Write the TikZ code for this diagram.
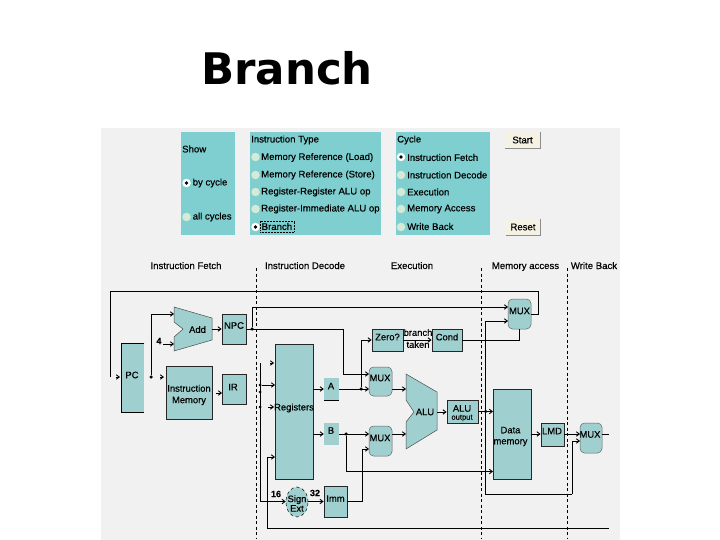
\documentclass[tikz,border=0pt]{standalone}
\usepackage{fontspec}
\setmainfont{Liberation Sans}[FakeBold=0.35]
\newfontfamily\titlefont{DejaVu Sans}
\usetikzlibrary{arrows.meta,shapes.geometric}
\definecolor{panelc}{HTML}{7FCFD0}
\definecolor{boxc}{HTML}{A0CFCF}
\definecolor{bgc}{HTML}{F1F1F1}
\definecolor{btnc}{HTML}{F5F2E4}
\definecolor{radc}{HTML}{D6EAD8}
\tikzset{
  panel/.style={fill=panelc,draw=none,inner sep=0pt},
  txt/.style={font=\fontsize{9.6}{10}\selectfont,inner sep=0pt,text=black},
  ltxt/.style={txt,anchor=west},
  head/.style={txt,anchor=base},
  lab/.style={font=\fontsize{9.4}{9}\selectfont,inner sep=0pt,text=black},
  box/.style={fill=boxc,draw=black!85,line width=.7pt,inner sep=0pt},
  softbox/.style={fill=boxc,draw=none,inner sep=0pt},
  muxbox/.style={rectangle,rounded corners=4.5pt,fill=boxc,draw=black!60,line width=.5pt,inner sep=0pt},
  shapefill/.style={fill=boxc,draw=black!70,line width=.5pt},
  wire/.style={line width=.9pt,black},
  arr/.style={wire,-{Straight Barb[length=3pt,width=4.5pt]}},
  stage/.style={black,line width=.9pt,dash pattern=on 3pt off 2.5pt},
  radio/.style={circle,minimum size=8.5pt,inner sep=0pt,fill=radc,draw=none},
  radioon/.style={circle,minimum size=8.5pt,inner sep=0pt,fill=white,draw=none},
  rdot/.style={circle,minimum size=3.8pt,inner sep=0pt,fill=black},
  btn/.style={fill=btnc,draw=none,inner sep=0pt},
  dot/.style={circle,fill=black,minimum size=3.5pt,inner sep=0pt}
}
\begin{document}
\begin{tikzpicture}[x=1pt,y=-1pt]
\useasboundingbox (0,0) rectangle (720,540);
\fill[white] (0,0) rectangle (720,540);
\fill[bgc] (101,128) rectangle (620,540);
\node[inner sep=0pt,anchor=base west,font=\titlefont\bfseries\fontsize{43.5}{46}\selectfont] (title) at (201,85) {Branch};

% control panels
\node[panel,minimum width=54pt,minimum height=103pt] (pShow) at (208,183.5) {};
\node[panel,minimum width=131pt,minimum height=103pt] (pType) at (315.5,183.5) {};
\node[panel,minimum width=94pt,minimum height=103pt] (pCycle) at (443,183.5) {};
\node[btn,minimum width=35pt,minimum height=16pt] (bStart) at (522.5,140) {};
\node[btn,minimum width=34pt,minimum height=16pt] (bReset) at (523,227) {};
\draw[black!45,line width=.6pt] (bStart.north east) -- (bStart.south east) -- (bStart.south west);
\draw[black!45,line width=.6pt] (bReset.north east) -- (bReset.south east) -- (bReset.south west);
\node[txt] (tStart) at (bStart) {Start};
\node[txt] (tReset) at (bReset) {Reset};

\node[ltxt] (tShow) at (182,149) {Show};
\node[radioon] (r1) at (186.5,183) {}; \node[rdot] (r1d) at (r1) {};
\node[ltxt] (tby) at (192.5,183) {by cycle};
\node[radio] (r2) at (186.5,217) {};
\node[ltxt] (tall) at (192.5,217) {all cycles};

\node[ltxt] (tType) at (251,140) {Instruction Type};
\node[radio] (t1) at (255.5,157) {}; \node[ltxt] (tt1) at (261,157.5) {Memory Reference (Load)};
\node[radio] (t2) at (255.5,175) {}; \node[ltxt] (tt2) at (261,175) {Memory Reference (Store)};
\node[radio] (t3) at (255.5,192) {}; \node[ltxt] (tt3) at (261,192) {Register-Register ALU op};
\node[radio] (t4) at (255.5,209) {}; \node[ltxt] (tt4) at (261,209) {Register-Immediate ALU op};
\node[radioon] (t5) at (255.5,227) {}; \node[rdot] (t5d) at (t5) {};
\node[ltxt] (tt5) at (261.5,226.5) {Branch};
\draw[black,line width=.5pt,densely dotted] (260.5,221) rectangle (294,232);

\node[ltxt] (tCycle) at (397,140) {Cycle};
\node[radioon] (c1) at (401,157) {}; \node[rdot] (c1d) at (c1) {};
\node[ltxt] (tc1) at (407,157.5) {Instruction Fetch};
\node[radio] (c2) at (401,175) {}; \node[ltxt] (tc2) at (407,175) {Instruction Decode};
\node[radio] (c3) at (401,192) {}; \node[ltxt] (tc3) at (407,192) {Execution};
\node[radio] (c4) at (401,209) {}; \node[ltxt] (tc4) at (407,209) {Memory Access};
\node[radio] (c5) at (401,227) {}; \node[ltxt] (tc5) at (407,226.5) {Write Back};

% stage headings
\node[head] (hIF) at (186,269) {Instruction Fetch};
\node[head] (hID) at (305,269) {Instruction Decode};
\node[head] (hEX) at (412,269) {Execution};
\node[head] (hMA) at (525.5,269) {Memory access};
\node[head] (hWB) at (594,269) {Write Back};

% stage boundaries
\coordinate (s1a) at (256,268); \coordinate (s1b) at (256,538);
\coordinate (s2a) at (481.5,268); \coordinate (s2b) at (481.5,538);
\coordinate (s3a) at (567.5,268); \coordinate (s3b) at (567.5,538);
\draw[stage] (s1a) -- (s1b);
\draw[stage] (s2a) -- (s2b);
\draw[stage] (s3a) -- (s3b);

% blocks
\node[box,draw=none,minimum width=22pt,minimum height=68pt] (PC) at (133,378) {};
\draw[black,line width=.7pt] (PC.north east) -- (PC.north west) -- (PC.south west) -- (PC.south east);
\node[box,minimum width=46pt,minimum height=53pt] (IM) at (189,392.5) {};
\node[box,minimum width=24pt,minimum height=30pt] (IR) at (234,389) {};
\node[box,minimum width=24pt,minimum height=30pt] (NPC) at (234,329) {};
\node[box,minimum width=38pt,minimum height=135pt] (Reg) at (294,411.5) {};
\node[softbox,minimum width=15pt,minimum height=22pt] (A) at (331.5,389) {};
\node[softbox,minimum width=15pt,minimum height=22pt] (B) at (331.5,434) {};
\draw[black,line width=.7pt] (A.south west) -- (A.south east);
\node[box,minimum width=23pt,minimum height=31pt] (Imm) at (335.5,501.5) {};
\node[ellipse,fill=boxc,draw=black,line width=.5pt,dashed,inner sep=0pt,minimum width=22pt,minimum height=30pt] (Sign) at (297,502) {};
\node[box,minimum width=31pt,minimum height=22pt] (Zero) at (387.5,340) {};
\node[box,minimum width=30pt,minimum height=22pt] (Cond) at (447,340) {};
\node[muxbox,minimum width=23pt,minimum height=30pt] (M1) at (519.5,314) {};
\node[muxbox,minimum width=23pt,minimum height=29pt] (M2) at (380.5,381.5) {};
\node[muxbox,minimum width=23pt,minimum height=30pt] (M3) at (380.5,441) {};
\node[muxbox,minimum width=22pt,minimum height=30pt] (M4) at (591,438) {};
\node[box,minimum width=31pt,minimum height=23pt] (ALUo) at (462.5,411.5) {};
\node[box,minimum width=38pt,minimum height=90pt] (DM) at (512,434) {};
\node[box,minimum width=23pt,minimum height=23pt] (LMD) at (552.5,434.5) {};

% polygons
\coordinate (AddE) at (212,329);
\coordinate (AddI1) at (174,314);
\coordinate (AddI2) at (174,344);
\draw[shapefill] (174,307) -- (212,318) -- (212,340) -- (174,351) -- (174,337) -- (183,329) -- (174,322) -- cycle;
\coordinate (AluE) at (437,412);
\coordinate (AluI1) at (406,389);
\coordinate (AluI2) at (406,434);
\draw[shapefill] (406,374) -- (437,392) -- (437,430) -- (406,449) -- (406,422) -- (414,412) -- (406,400) -- cycle;

% block labels
\node[lab] (lPC) at (132,375) {PC};
\node[lab,align=center,font=\fontsize{9.4}{11.5}\selectfont] (lIM) at (189,395) {Instruction\\Memory};
\node[lab] (lIR) at (233,387) {IR};
\node[lab] (lNPC) at (234,325.5) {NPC};
\node[lab] (lAdd) at (197.5,329.5) {Add};
\node[lab] (lReg) at (294,408) {Registers};
\node[lab] (lA) at (331,386) {A};
\node[lab] (lB) at (331,430.5) {B};
\node[lab] (lImm) at (335.5,498.5) {Imm};
\node[lab,align=center,font=\fontsize{9.4}{9.5}\selectfont] (lSign) at (297,503.5) {Sign\\Ext};
\node[lab] (lZero) at (387.5,337) {Zero?};
\node[lab] (lCond) at (447,337) {Cond};
\node[lab] (lBr) at (418,332.5) {branch};
\node[lab] (lTk) at (418,344.5) {taken};
\node[lab] (lM1) at (519.5,311) {MUX};
\node[lab] (lM2) at (380,378) {MUX};
\node[lab] (lM3) at (380,438) {MUX};
\node[lab] (lM4) at (590,434.5) {MUX};
\node[lab] (lALU) at (425,412) {ALU};
\node[lab] (lALUo) at (462,408.5) {ALU};
\node[lab,font=\fontsize{7.6}{9}\selectfont] (lOut) at (462,418) {output};
\node[lab,align=center,font=\fontsize{9.4}{11}\selectfont] (lDM) at (510.5,436.5) {Data\\memory};
\node[lab] (lLMD) at (552,431) {LMD};
\node[lab,font=\bfseries\fontsize{9}{9}\selectfont] (l4) at (159,341) {4};
\node[lab,font=\bfseries\fontsize{9}{9}\selectfont] (l16) at (276,494) {16};
\node[lab,font=\bfseries\fontsize{9}{9}\selectfont] (l32) at (315,493) {32};

% junctions
\coordinate (backL) at (110,291);
\coordinate (backR) at (538,291);
\coordinate (backT) at (110,377);
\node[dot] (jPC) at (151,377) {};
\node[dot] (jNPC) at (252,329) {};
\coordinate (npcR) at (343,329);
\coordinate (npcD) at (343,374);
\coordinate (m1a) at (508,307);
\coordinate (m1b) at (508,321);
\coordinate (m1o) at (538,314);
\coordinate (m2a) at (369,374);
\coordinate (m2b) at (369,389);
\coordinate (m3a) at (369,434);
\coordinate (m3b) at (369,449);
\coordinate (m4a) at (580,434);
\coordinate (m4b) at (580,441);
\coordinate (m4o) at (609,434);
\node[dot] (jA) at (361,389) {};
\node[dot] (jB) at (346,434) {};
\coordinate (bD) at (346,471.5);
\coordinate (dmW) at (493,471.5);
\coordinate (dmA) at (493,411.5);
\node[dot] (jAo) at (485.5,411.5) {};
\coordinate (aoUp) at (485.5,321);
\coordinate (aoDn) at (485.5,494);
\coordinate (aoR) at (572,494);
\coordinate (aoU2) at (572,441);
\coordinate (busT) at (260,363);
\coordinate (busB) at (260,501.5);
\node[dot,minimum size=3pt] (jb1) at (260,385) {};
\node[dot,minimum size=3pt] (jb2) at (260,392) {};
\node[dot,minimum size=3pt] (jb3) at (260,407) {};
\coordinate (regW) at (275,385);
\coordinate (wbA) at (267,457);
\coordinate (wbB) at (267,528);
\coordinate (wbC) at (609,528);
\coordinate (wbIn) at (275,457);
\coordinate (immU) at (362,501.5);
\coordinate (immV) at (362,449);

% connectors
\draw[wire] (backT) -- (backL) -- (backR) -- (m1o) -- (M1.east |- m1o);
\draw[arr] (116,377) -- (120,377);
\draw[arr] (jPC) |- (AddI1);
\draw[arr] (163,344) -- (AddI2);
\draw[arr] (160,377) -- (164,377);
\draw[arr] (AddE) -- (NPC.west);
\draw[arr] (216,393) -- (222,393);
\draw[wire] (NPC.east) -- (npcR);
\draw[arr] (npcR) -- (npcD) -- (m2a);
\draw[arr] (jNPC) |- (m1a);
\draw[wire] (busT) -- (busB);
\draw[arr] (jb1) -- (regW);
\draw[arr] (270,363) -- (274,363);
\draw[arr] (268,407) -- (274,407);
\draw[arr] (busB) -- (Sign.west |- busB);
\draw[arr] (Sign.east |- busB) -- (Imm.west |- busB);
\draw[arr] (wbB) -- (wbA) -- (wbIn);
\draw[wire] (wbB) -- (wbC);
\draw[arr] (Reg.east |- A) -- (A.west);
\draw[arr] (Reg.east |- B) -- (B.west);
\draw[arr] (A.east) -- (m2b);
\draw[arr] (B.east) -- (m3a);
\draw[arr] (jA) |- (Zero.west);
\draw[arr] (jB) -- (bD) -- (dmW);
\draw[wire] (Imm.east |- immU) -- (immU);
\draw[arr] (immU) -- (immV) -- (m3b);
\draw[arr] (Zero.east) -- (Cond.west);
\draw[wire] (Cond.east) -| (M1.south);
\draw[arr] (M2.east |- m2b) -- (AluI1);
\draw[arr] (M3.east |- m3a) -- (AluI2);
\draw[arr] (AluE) -- (ALUo.west |- AluE);
\draw[arr] (ALUo.east) -- (dmA);
\draw[arr] (aoUp) -- (m1b);
\draw[wire] (aoUp) -- (aoDn) -- (aoR);
\draw[arr] (aoR) -- (aoU2) -- (m4b);
\draw[arr] (DM.east |- m4a) -- (LMD.west |- m4a);
\draw[arr] (LMD.east |- m4a) -- (m4a);
\draw[wire] (M4.east |- m4o) -- (m4o);
\end{tikzpicture}
\end{document}
